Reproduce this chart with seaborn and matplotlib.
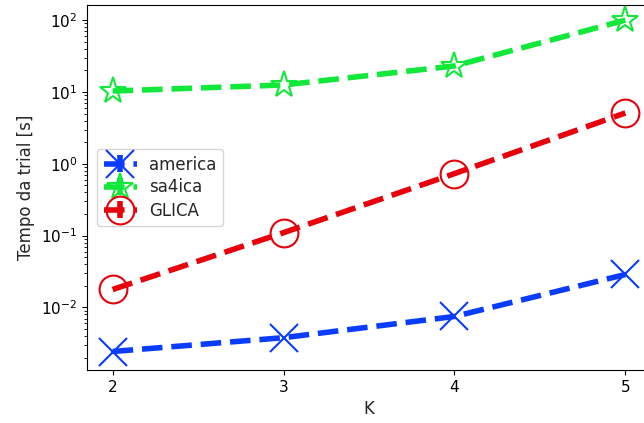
import numpy as np
import matplotlib
matplotlib.use("Agg")
import matplotlib.pyplot as plt
import seaborn as sns

k_values = [2, 3, 4, 5]
america = [0.00244, 0.0038, 0.0075, 0.0288]
sa4ica = [10.3, 12.5, 23.0, 100.0]
glica = [0.0178, 0.11, 0.73, 5.1]
series_names = ["america", "sa4ica", "GLICA"]

sns.set_style("ticks")
plt.rcParams["font.family"] = ["DejaVu Sans"]

fig = plt.figure(figsize=(6.44, 4.23), dpi=100)
ax = fig.add_axes([87 / 644, 53 / 423, 564 / 644, 365 / 423])

styles = [
    dict(color="#0a3cff", marker="x", mfc="none"),
    dict(color="#12e83a", marker="*", mfc="none"),
    dict(color="#e8000b", marker="o", mfc="none"),
]
for name, vals, st in zip(series_names, [america, sa4ica, glica], styles):
    ax.errorbar(k_values, vals, yerr=np.zeros(len(vals)), label=name,
                linestyle="--", linewidth=4, markersize=20, markeredgewidth=1.5,
                elinewidth=4, **st)

ax.set_yscale("log")
ax.set_xlim(1.85, 5.15)
ax.set_ylim(10 ** -2.87, 10 ** 2.21)
ax.set_xticks(k_values)
ax.set_xlabel("K", fontsize=12)
ax.set_ylabel("Tempo da trial [s]", fontsize=12)
for s in ax.spines.values():
    s.set_visible(True)
    s.set_color("black")
ax.tick_params(colors="black", which="both", labelsize=11)
ax.legend(loc="center left", fontsize=12, borderaxespad=0.6, labelspacing=0.3,
          handletextpad=0.7)

fig.savefig("out.png", dpi=100)
